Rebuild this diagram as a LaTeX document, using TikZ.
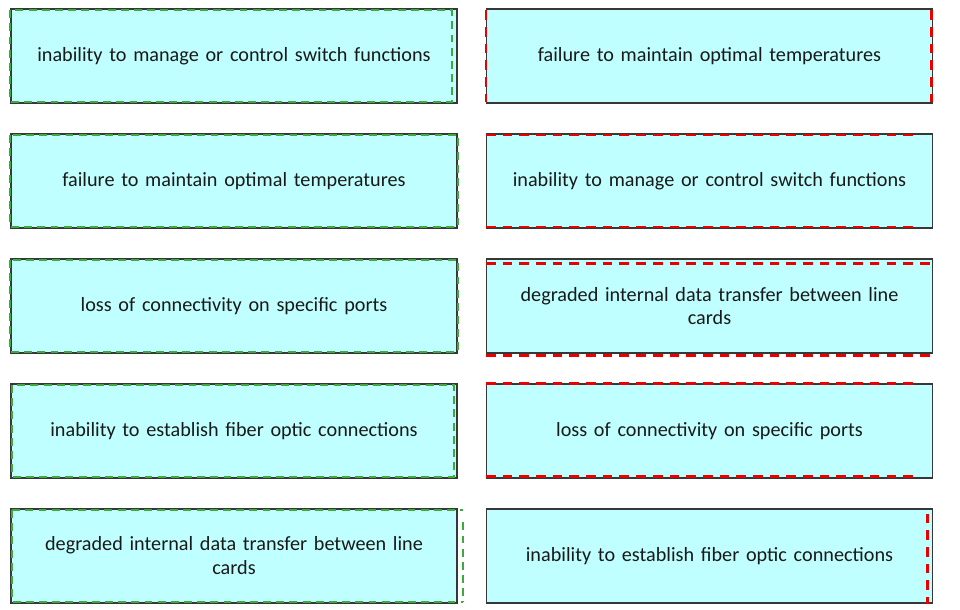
\documentclass[tikz,border=0pt]{standalone}
\usepackage{fontspec}
\setmainfont{Carlito}
\usepackage{tikz}
\usetikzlibrary{arrows}

\definecolor{boxfill}{RGB}{192,255,255}
\definecolor{boxline}{RGB}{55,55,55}
\definecolor{okgreen}{RGB}{60,170,60}
\definecolor{badred}{RGB}{235,0,0}

\begin{document}
\begin{tikzpicture}[x=0.02cm,y=-0.02cm,node distance=2.5cm,
  main box/.style={rectangle,fill=boxfill,draw=boxline,line width=0.7pt,minimum width=8.92cm,minimum height=1.88cm,
    text width=8.4cm,align=center,font=\fontsize{11.5}{13.5}\selectfont,text=black!90},
  green dash/.style={draw=okgreen,line width=1.1pt,dash pattern=on 4.5pt off 3pt},
  red dash/.style={draw=badred,line width=1.5pt,dash pattern=on 5.5pt off 4pt}]

  \useasboundingbox[fill=white] (0,0) rectangle (960,609);

  % left column
  \node[main box] (l1) at (234,56) {inability to manage or control switch functions};
  \node[main box] (l2) [below of=l1] {failure to maintain optimal temperatures};
  \node[main box] (l3) [below of=l2] {loss of connectivity on specific ports};
  \node[main box] (l4) [below of=l3] {inability to establish fiber optic connections};
  \node[main box] (l5) [below of=l4] {degraded internal data transfer between line\\cards};

  % right column
  \node[main box] (r1) at (709.5,56) {failure to maintain optimal temperatures};
  \node[main box] (r2) [below of=r1] {inability to manage or control switch functions};
  \node[main box] (r3) [below of=r2] {degraded internal data transfer between line\\cards};
  \node[main box] (r4) [below of=r3] {loss of connectivity on specific ports};
  \node[main box] (r5) [below of=r4] {inability to establish fiber optic connections};

  % green marks
  \draw[green dash] ([yshift=-1pt]l1.north west) rectangle ([xshift=-3pt,yshift=1pt]l1.south east);
  \draw[green dash] ([yshift=-1pt]l2.north west) rectangle ([yshift=1pt]l2.south east);
  \draw[green dash] ([yshift=-1pt]l3.north west) rectangle ([yshift=1pt]l3.south east);
  \draw[green dash] ([xshift=1pt,yshift=-1pt]l4.north west) rectangle ([xshift=-2pt,yshift=1pt]l4.south east);
  \draw[green dash] ([xshift=1pt,yshift=-1pt]l5.north west) -- ([xshift=3pt,yshift=-1pt]l5.north east);
  \draw[green dash] ([xshift=1pt,yshift=-1pt]l5.north west) -- ([xshift=1pt,yshift=1pt]l5.south west) -- ([xshift=3pt,yshift=1pt]l5.south east);
  \draw[green dash] ([xshift=3pt,yshift=-8pt]l5.north east) -- ([xshift=3pt,yshift=1pt]l5.south east);

  % red marks
  \draw[red dash] ([yshift=-1pt]r1.north west) -- ([yshift=1pt]r1.south west);
  \draw[red dash] ([xshift=-1pt,yshift=-1pt]r1.north east) -- ([xshift=-1pt,yshift=1pt]r1.south east);
  \draw[red dash] ([yshift=-1pt]r2.north west) -- ([xshift=-8pt,yshift=-1pt]r2.north east);
  \draw[red dash] ([yshift=1pt]r2.south west) -- ([xshift=-8pt,yshift=1pt]r2.south east);
  \draw[red dash] ([yshift=-3pt]r3.north west) -- ([xshift=-2pt,yshift=-3pt]r3.north east);
  \draw[red dash] ([yshift=-1pt]r3.south west) -- ([xshift=-2pt,yshift=-1pt]r3.south east);
  \draw[red dash] (r4.north west) -- ([xshift=-8pt]r4.north east);
  \draw[red dash] ([yshift=1pt]r4.south west) -- ([xshift=-8pt,yshift=1pt]r4.south east);
  \draw[red dash] ([xshift=-3pt,yshift=-3pt]r5.north east) -- ([xshift=-3pt]r5.south east);

\end{tikzpicture}
\end{document}
